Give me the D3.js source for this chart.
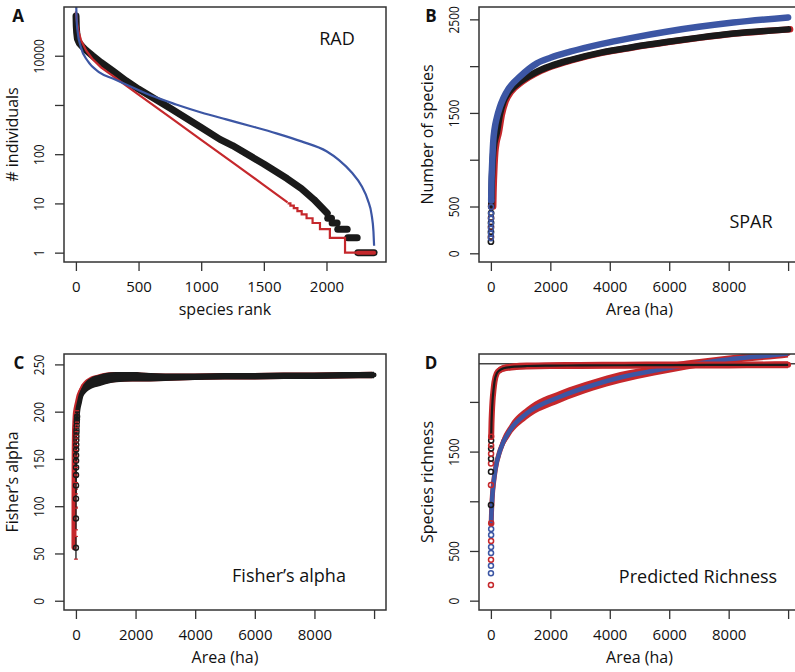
<!DOCTYPE html>
<html>
<head>
<meta charset="utf-8">
<script src="https://cdn.jsdelivr.net/npm/d3@7/dist/d3.min.js"></script>
<style>
  body { margin: 0; background: #fff; }
  text { font-family: "Open Sans", sans-serif; fill: #111; }
</style>
</head>
<body>
<svg id="fig" width="795" height="672"></svg>
<script>
// ---------- A: rank abundance ----------
const radObsRank = [1, 3, 6, 12, 27, 50, 80, 133, 200, 300, 400, 500, 750, 1000, 1150, 1250, 1500, 1685, 1800, 1900, 2006];
const radObsN    = [64000, 40000, 30000, 22000, 18000, 15500, 13000, 10000, 7300, 4800, 3100, 2100, 870, 350, 200, 150, 63, 32, 20, 12, 6.3];
// integer tail of the observed abundances
const radTailN    = [5, 4, 3, 2, 1];
const radTailFrom = [2010, 2045, 2090, 2170, 2250];
const radTailTo   = [2040, 2085, 2165, 2245, 2380];
// red fit, smooth part then integer steps
const radLnRank = [0, 10, 20, 40, 80, 130, 200, 300, 401, 500, 750, 1000, 1250, 1500, 1689];
const radLnN    = [80000, 45000, 32000, 21000, 13000, 8700, 5800, 3800, 2470, 1620, 565, 196, 68, 23.6, 10.5];
const radLnStepRank = [1689, 1712, 1739, 1768, 1802, 1841, 1889, 1948, 2027, 2148, 2380];
const radLnStepN    = [10, 9, 8, 7, 6, 5, 4, 3, 2, 1, 1];
// blue fit
const radZsmRank = [0, 5, 13, 40, 93, 187, 300, 400, 600, 800, 1000, 1200, 1400, 1600, 1800, 2000, 2100, 2200, 2280, 2330, 2360, 2375, 2380];
const radZsmN    = [200000, 60000, 32000, 14800, 7900, 4600, 3400, 2600, 1550, 1025, 705, 510, 370, 265, 182, 115, 76, 43, 22.6, 11.7, 5.9, 2.65, 1.38];
const radXTicks = [0, 500, 1000, 1500, 2000];
const radYTicks = [1, 10, 100, 1000, 10000];
const radYLabels = ["1", "10", "100", "", "10000"];

// ---------- B: species-area ----------
const sparSmallArea = [1, 2, 3, 4, 5, 6, 8, 10];
const sparObsSmall  = [124, 174, 228, 281, 327, 377, 430, 500];
const sparPowSmall  = [160, 210, 263, 317, 370, 424, 495, 566];
const sparArea = [10, 20, 35, 55, 80, 120, 200, 300, 425, 600, 985, 1546, 2000, 2666, 3700, 4700, 5900, 7000, 8155, 10000];
const sparObs  = [500, 650, 800, 950, 1080, 1180, 1290, 1480, 1620, 1720, 1833, 1940, 2000, 2065, 2145, 2200, 2258, 2305, 2348, 2393];
const sparPow  = [566, 760, 900, 1050, 1200, 1320, 1450, 1560, 1660, 1760, 1890, 2030, 2090, 2154, 2235, 2300, 2368, 2420, 2466, 2521];
const areaTicks = [0, 2000, 4000, 6000, 8000, 10000];
const areaLabels = ["0", "2000", "4000", "6000", "8000", ""];
const sparYTicks = [0, 500, 1000, 1500, 2000, 2500];
const sparYLabels = ["0", "500", "", "1500", "", "2500"];

// ---------- C: Fisher's alpha ----------
const fisherSmallArea  = [1, 2, 3, 4, 5, 6, 7, 8, 10, 12, 14, 16, 18, 20, 25, 30, 35, 40];
const fisherSmallAlpha = [56, 87, 108, 122, 133, 141, 148, 154, 160, 165, 170, 174, 178, 181, 185, 189, 192, 195];
const fisherSmallErr   = [12, 12, 10, 9, 8, 8, 7, 7, 7, 6, 6, 6, 6, 6, 6, 6, 6, 6];
const fisherArea  = [40, 70, 112, 160, 220, 335, 500, 783, 1000, 1345, 1900, 2500, 3000, 4000, 5000, 6000, 7000, 8000, 9000, 10000];
const fisherAlpha = [195, 203, 209, 216, 221, 226, 230, 233, 235, 236.5, 237, 236.5, 236.5, 237, 237.5, 237.5, 238, 238, 238.5, 238.8];
const fisherHalf  = [6, 6, 6, 6, 6, 6, 6, 6, 6, 5.5, 5, 4.5, 4, 3.5, 3.5, 3.5, 3.5, 3.5, 3.5, 3.5];
const fisherYTicks = [0, 50, 100, 150, 200, 250];

// ---------- D: predicted richness ----------
const richObsTotal = 2384;
const richSmallArea = [1, 2, 3, 4, 5, 6, 7, 8, 9, 10];
const richEstSmall  = [963, 1164, 1298, 1379, 1429, 1479, 1530, 1562, 1612, 1650];
const richPowSmall  = [157, 277, 351, 412, 479, 540, 600, 660, 720, 780];
const richEstArea = [10, 20, 35, 55, 88, 120, 200, 300, 425, 700, 1210, 2000, 3000, 4500, 6000, 8000, 10000];
const richEst     = [1650, 1780, 1900, 2010, 2120, 2200, 2288, 2320, 2338, 2352, 2361, 2365, 2367, 2369, 2371, 2372, 2373];
const richEstCI   = [35, 35, 35, 35, 35, 35, 35, 35, 35, 35, 35, 35, 35, 35, 35, 35, 35];
const richPowArea = [10, 20, 35, 55, 88, 150, 313, 649, 1210, 2329, 3449, 4346, 5500, 6588, 8000, 9613, 10000];
const richPow     = [780, 880, 980, 1080, 1181, 1320, 1516, 1717, 1885, 2052, 2170, 2245, 2315, 2371, 2428, 2475, 2488];
const richPowCI   = [40, 45, 50, 55, 55, 60, 60, 60, 60, 60, 55, 55, 50, 45, 40, 40, 40];
const richYTicks = [0, 500, 1000, 1500, 2000];
const richYLabels = ["0", "500", "", "1500", ""];

const RED = "#c5282c", BLUE = "#3c56a4", INK = "#1a1a1a", BOX = "#333";

const svg = d3.select("#fig");
const defs = svg.append("defs");

// frame, axes and labels of one panel
function panel(p) {
  const g = svg.append("g");
  defs.append("clipPath").attr("id", "clip" + p.letter)
    .append("rect")
    .attr("x", p.left).attr("y", p.top)
    .attr("width", p.right - p.left).attr("height", p.bottom - p.top);
  const plot = g.append("g").attr("clip-path", `url(#clip${p.letter})`);

  const xAxis = d3.axisBottom(p.x).tickValues(p.xTicks)
    .tickFormat((d, i) => p.xLabels[i]).tickSize(9).tickPadding(10).tickSizeOuter(0);
  const xa = g.append("g").attr("transform", `translate(0,${p.bottom})`).call(xAxis);
  xa.select(".domain").remove();

  const yAxis = d3.axisLeft(p.y).tickValues(p.yTicks)
    .tickFormat((d, i) => p.yLabels[i]).tickSize(9).tickSizeOuter(0);
  const ya = g.append("g").attr("transform", `translate(${p.left},0)`).call(yAxis);
  ya.select(".domain").remove();
  // vertical tick labels are set a little narrower in the original
  ya.selectAll(".tick text")
    .attr("transform", "rotate(-90) scale(0.8,1)")
    .attr("x", 0).attr("y", -20).attr("dy", 0)
    .attr("text-anchor", "middle");

  g.selectAll(".tick line").attr("stroke", BOX).attr("stroke-width", 1.3);
  g.selectAll(".tick text").attr("font-family", "Open Sans").attr("font-size", 15).attr("fill", "#111");

  g.append("rect")
    .attr("x", p.left).attr("y", p.top)
    .attr("width", p.right - p.left).attr("height", p.bottom - p.top)
    .attr("fill", "none").attr("stroke", BOX).attr("stroke-width", 1.5);

  g.append("text")
    .attr("x", (p.left + p.right) / 2).attr("y", p.bottom + 53)
    .attr("text-anchor", "middle").attr("font-size", 16)
    .text(p.xTitle);
  g.append("text")
    .attr("transform", `translate(${p.left - 46},${(p.top + p.bottom) / 2}) rotate(-90)`)
    .attr("text-anchor", "middle").attr("font-size", 16)
    .text(p.yTitle);
  g.append("text")
    .attr("x", p.letterX).attr("y", p.top + 15)
    .attr("text-anchor", "middle").attr("font-size", 17).attr("font-weight", "bold")
    .text(p.letter);
  g.append("text")
    .attr("x", p.tagX).attr("y", p.tagY)
    .attr("text-anchor", "middle").attr("font-size", 18)
    .text(p.tag);
  return plot;
}

const zip = (a, b) => a.map((v, i) => [v, b[i]]);

// ----- A -----
const xA = d3.scaleLinear().domain([-95, 2475]).range([64, 386]);
const yA = d3.scaleLog().domain([Math.pow(10, -0.19), Math.pow(10, 4.99)]).range([262, 7]);
const plotA = panel({
  letter: "A", left: 64, right: 386, top: 7, bottom: 262, x: xA, y: yA,
  xTicks: radXTicks, xLabels: radXTicks.map(String), yTicks: radYTicks, yLabels: radYLabels,
  xTitle: "species rank", yTitle: "# individuals", letterX: 18, tag: "RAD", tagX: 337, tagY: 45
});
const lineA = d3.line().x(d => xA(d[0])).y(d => yA(d[1]));

plotA.append("path").datum(zip(radObsRank, radObsN))
  .attr("d", lineA).attr("fill", "none").attr("stroke", INK)
  .attr("stroke-width", 7).attr("stroke-linecap", "round").attr("stroke-linejoin", "round");
plotA.selectAll("line.tail").data(radTailN).join("line").attr("class", "tail")
  .attr("x1", (d, i) => xA(radTailFrom[i])).attr("x2", (d, i) => xA(radTailTo[i]))
  .attr("y1", d => yA(d)).attr("y2", d => yA(d))
  .attr("stroke", INK).attr("stroke-width", 7).attr("stroke-linecap", "round");

plotA.append("path").datum(zip(radLnRank, radLnN))
  .attr("d", lineA).attr("fill", "none").attr("stroke", RED).attr("stroke-width", 2.2);
plotA.append("path").datum(zip(radLnStepRank, radLnStepN))
  .attr("d", lineA.curve(d3.curveStepAfter)).attr("fill", "none").attr("stroke", RED).attr("stroke-width", 2.2);
// singletons drawn over in red
plotA.append("line")
  .attr("x1", xA(radTailFrom[4])).attr("x2", xA(radTailTo[4]))
  .attr("y1", yA(1)).attr("y2", yA(1))
  .attr("stroke", RED).attr("stroke-width", 4).attr("stroke-linecap", "round");

plotA.append("path").datum(zip(radZsmRank, radZsmN))
  .attr("d", lineA.curve(d3.curveMonotoneX)).attr("fill", "none").attr("stroke", BLUE).attr("stroke-width", 2.2);

// ----- B -----
const xB = d3.scaleLinear().domain([-400, 10400]).range([479, 800]);
const yB = d3.scaleLinear().domain([-93, 2632]).range([262, 7]);
const plotB = panel({
  letter: "B", left: 479, right: 800, top: 7, bottom: 262, x: xB, y: yB,
  xTicks: areaTicks, xLabels: areaLabels, yTicks: sparYTicks, yLabels: sparYLabels,
  xTitle: "Area (ha)", yTitle: "Number of species", letterX: 431, tag: "SPAR", tagX: 751, tagY: 228
});
const lineB = d3.line().x(d => xB(d[0])).y(d => yB(d[1])).curve(d3.curveMonotoneX);

plotB.append("path").datum(zip(sparArea, sparObs))
  .attr("transform", "translate(2,0)")
  .attr("d", lineB).attr("fill", "none").attr("stroke", RED).attr("stroke-width", 6.5)
  .attr("stroke-linecap", "round");
plotB.append("path").datum(zip(sparArea, sparObs))
  .attr("d", lineB).attr("fill", "none").attr("stroke", INK).attr("stroke-width", 6.5)
  .attr("stroke-linecap", "round");
plotB.selectAll("circle.obs").data(zip(sparSmallArea, sparObsSmall)).join("circle").attr("class", "obs")
  .attr("cx", d => xB(d[0])).attr("cy", d => yB(d[1])).attr("r", 2.6)
  .attr("fill", "none").attr("stroke", (d, i) => i % 2 ? "#5b1c1c" : INK).attr("stroke-width", 1.6);
plotB.append("path").datum(zip(sparArea, sparPow))
  .attr("d", lineB).attr("fill", "none").attr("stroke", BLUE).attr("stroke-width", 6.5)
  .attr("stroke-linecap", "round");
plotB.selectAll("circle.pow").data(zip(sparSmallArea, sparPowSmall)).join("circle").attr("class", "pow")
  .attr("cx", d => xB(d[0])).attr("cy", d => yB(d[1])).attr("r", 2.4)
  .attr("fill", "none").attr("stroke", BLUE).attr("stroke-width", 1.5);

// ----- C -----
const xC = d3.scaleLinear().domain([-400, 10400]).range([64, 386]);
const yC = d3.scaleLinear().domain([-9.8, 261]).range([610, 354]);
const plotC = panel({
  letter: "C", left: 64, right: 386, top: 354, bottom: 610, x: xC, y: yC,
  xTicks: areaTicks, xLabels: areaLabels, yTicks: fisherYTicks, yLabels: fisherYTicks.map(String),
  xTitle: "Area (ha)", yTitle: "Fisher\u2019s alpha", letterX: 19, tag: "Fisher\u2019s alpha", tagX: 289, tagY: 582
});
const bandC = d3.area().x(d => xC(d[0])).y0(d => yC(d[1] - d[2])).y1(d => yC(d[1] + d[2])).curve(d3.curveMonotoneX);
const fisherRows = fisherArea.map((a, i) => [a, fisherAlpha[i], fisherHalf[i]]);
const lineC = d3.line().x(d => xC(d[0])).y(d => yC(d[1])).curve(d3.curveMonotoneX);
const fisherAll = zip(fisherSmallArea, fisherSmallAlpha).concat(zip(fisherArea, fisherAlpha));

const redC = plotC.append("g").attr("transform", "translate(-2,0)");
redC.append("path").datum(fisherRows).attr("d", bandC).attr("fill", RED);
redC.append("path").datum(fisherAll).attr("d", lineC).attr("fill", "none")
  .attr("stroke", RED).attr("stroke-width", 5).attr("stroke-linecap", "round");
plotC.append("path").datum(fisherRows).attr("d", bandC).attr("fill", INK);
plotC.append("path").datum(zip(fisherArea, fisherAlpha)).attr("d", lineC).attr("fill", "none")
  .attr("stroke", INK).attr("stroke-width", 5).attr("stroke-linecap", "round");

const errC = plotC.selectAll("g.err").data(fisherSmallArea).join("g").attr("class", "err");
errC.append("line")
  .attr("x1", d => xC(d)).attr("x2", d => xC(d))
  .attr("y1", (d, i) => yC(fisherSmallAlpha[i] - fisherSmallErr[i]))
  .attr("y2", (d, i) => yC(fisherSmallAlpha[i] + fisherSmallErr[i]))
  .attr("stroke", INK).attr("stroke-width", 1.3);
errC.append("line")
  .attr("x1", d => xC(d) - 2).attr("x2", d => xC(d) + 2)
  .attr("y1", (d, i) => yC(fisherSmallAlpha[i] + fisherSmallErr[i]))
  .attr("y2", (d, i) => yC(fisherSmallAlpha[i] + fisherSmallErr[i]))
  .attr("stroke", RED).attr("stroke-width", 1.2);
errC.append("line")
  .attr("x1", d => xC(d) - 2).attr("x2", d => xC(d) + 2)
  .attr("y1", (d, i) => yC(fisherSmallAlpha[i] - fisherSmallErr[i]))
  .attr("y2", (d, i) => yC(fisherSmallAlpha[i] - fisherSmallErr[i]))
  .attr("stroke", RED).attr("stroke-width", 1.2);
errC.append("circle")
  .attr("cx", d => xC(d)).attr("cy", (d, i) => yC(fisherSmallAlpha[i])).attr("r", 2.5)
  .attr("fill", "none").attr("stroke", INK).attr("stroke-width", 1.4);

// ----- D -----
const xD = d3.scaleLinear().domain([-400, 10400]).range([479, 800]);
const yD = d3.scaleLinear().domain([-94, 2482]).range([610, 354]);
const plotD = panel({
  letter: "D", left: 479, right: 800, top: 354, bottom: 610, x: xD, y: yD,
  xTicks: areaTicks, xLabels: areaLabels, yTicks: richYTicks, yLabels: richYLabels,
  xTitle: "Area (ha)", yTitle: "Species richness", letterX: 431, tag: "Predicted Richness", tagX: 698, tagY: 583
});
const bandD = d3.area().x(d => xD(d[0])).y0(d => yD(d[1] - d[2])).y1(d => yD(d[1] + d[2])).curve(d3.curveMonotoneX);
const lineD = d3.line().x(d => xD(d[0])).y(d => yD(d[1])).curve(d3.curveMonotoneX);

plotD.append("line")
  .attr("x1", xD.range()[0]).attr("x2", xD.range()[1])
  .attr("y1", yD(richObsTotal)).attr("y2", yD(richObsTotal))
  .attr("stroke", "#444").attr("stroke-width", 1.5);

// power-law estimate: red interval, blue centre
plotD.append("path").datum(richPowArea.map((a, i) => [a, richPow[i], richPowCI[i]]))
  .attr("d", bandD).attr("fill", RED);
plotD.append("path").datum(zip(richPowArea, richPow))
  .attr("d", lineD).attr("fill", "none").attr("stroke", RED).attr("stroke-width", 5).attr("stroke-linecap", "round");
plotD.append("path").datum(zip(richPowArea, richPow))
  .attr("d", lineD).attr("fill", "none").attr("stroke", BLUE).attr("stroke-width", 4.5);
plotD.selectAll("circle.pow").data(zip(richSmallArea, richPowSmall)).join("circle").attr("class", "pow")
  .attr("cx", d => xD(d[0])).attr("cy", d => yD(d[1])).attr("r", 2.5)
  .attr("fill", "none").attr("stroke", (d, i) => i % 3 === 0 ? RED : BLUE).attr("stroke-width", 1.5);

// saturating estimate: red interval, black centre
plotD.append("path").datum(richEstArea.map((a, i) => [a, richEst[i], richEstCI[i]]))
  .attr("d", bandD).attr("fill", RED);
plotD.append("path").datum(zip(richEstArea, richEst))
  .attr("d", lineD).attr("fill", "none").attr("stroke", RED).attr("stroke-width", 6).attr("stroke-linecap", "round");
plotD.append("path").datum(zip(richEstArea, richEst))
  .attr("d", lineD).attr("fill", "none").attr("stroke", INK).attr("stroke-width", 2.2);
plotD.selectAll("circle.est").data(zip(richSmallArea, richEstSmall)).join("circle").attr("class", "est")
  .attr("cx", d => xD(d[0])).attr("cy", d => yD(d[1])).attr("r", 2.5)
  .attr("fill", "none").attr("stroke", (d, i) => i % 2 ? RED : INK).attr("stroke-width", 1.5);
</script>
</body>
</html>
